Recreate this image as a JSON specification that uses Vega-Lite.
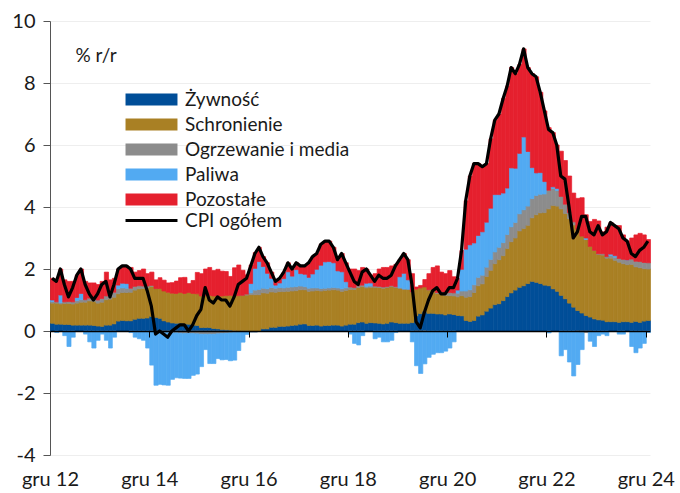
{
  "$schema": "https://vega.github.io/schema/vega-lite/v6.json",
  "width": 600,
  "height": 434,
  "autosize": {"type": "none"},
  "padding": {"left": 50, "top": 21, "right": 30, "bottom": 38},
  "background": "white",
  "config": {"font": "Lato", "view": {"stroke": null}},
  "resolve": {"scale": {"stroke": "independent"}, "legend": {"stroke": "independent"}},
  "data": {"values": [
    {"d":"2012-12-01","f":0.25,"s":0.65,"u":0.05,"p":0.05,"o":0.70,"c":1.7},
    {"d":"2013-01-01","f":0.22,"s":0.68,"u":0.04,"p":-0.05,"o":0.71,"c":1.6},
    {"d":"2013-02-01","f":0.22,"s":0.65,"u":0.04,"p":0.25,"o":0.84,"c":2.0},
    {"d":"2013-03-01","f":0.21,"s":0.68,"u":0.05,"p":-0.15,"o":0.71,"c":1.5},
    {"d":"2013-04-01","f":0.21,"s":0.68,"u":0.06,"p":-0.5,"o":0.65,"c":1.1},
    {"d":"2013-05-01","f":0.19,"s":0.68,"u":0.07,"p":-0.2,"o":0.66,"c":1.4},
    {"d":"2013-06-01","f":0.19,"s":0.71,"u":0.08,"p":0.1,"o":0.72,"c":1.8},
    {"d":"2013-07-01","f":0.19,"s":0.74,"u":0.08,"p":0.2,"o":0.79,"c":2.0},
    {"d":"2013-08-01","f":0.19,"s":0.74,"u":0.08,"p":-0.1,"o":0.59,"c":1.5},
    {"d":"2013-09-01","f":0.19,"s":0.78,"u":0.09,"p":-0.35,"o":0.49,"c":1.2},
    {"d":"2013-10-01","f":0.18,"s":0.78,"u":0.10,"p":-0.55,"o":0.49,"c":1.0},
    {"d":"2013-11-01","f":0.16,"s":0.74,"u":0.10,"p":-0.3,"o":0.50,"c":1.2},
    {"d":"2013-12-01","f":0.15,"s":0.78,"u":0.12,"p":-0.1,"o":0.55,"c":1.5},
    {"d":"2014-01-01","f":0.19,"s":0.82,"u":0.12,"p":-0.3,"o":0.77,"c":1.6},
    {"d":"2014-02-01","f":0.19,"s":0.84,"u":0.15,"p":-0.55,"o":0.47,"c":1.1},
    {"d":"2014-03-01","f":0.23,"s":0.86,"u":0.16,"p":-0.2,"o":0.45,"c":1.5},
    {"d":"2014-04-01","f":0.32,"s":0.88,"u":0.16,"p":0.12,"o":0.52,"c":2.0},
    {"d":"2014-05-01","f":0.34,"s":0.90,"u":0.15,"p":0.15,"o":0.56,"c":2.1},
    {"d":"2014-06-01","f":0.33,"s":0.91,"u":0.14,"p":0.15,"o":0.57,"c":2.1},
    {"d":"2014-07-01","f":0.33,"s":0.92,"u":0.13,"p":-0.05,"o":0.67,"c":2.0},
    {"d":"2014-08-01","f":0.38,"s":0.94,"u":0.12,"p":-0.2,"o":0.46,"c":1.7},
    {"d":"2014-09-01","f":0.41,"s":0.95,"u":0.10,"p":-0.25,"o":0.49,"c":1.7},
    {"d":"2014-10-01","f":0.41,"s":0.96,"u":0.08,"p":-0.3,"o":0.55,"c":1.7},
    {"d":"2014-11-01","f":0.42,"s":0.97,"u":0.06,"p":-0.55,"o":0.40,"c":1.3},
    {"d":"2014-12-01","f":0.47,"s":0.97,"u":0.03,"p":-1.1,"o":0.43,"c":0.8},
    {"d":"2015-01-01","f":0.44,"s":0.93,"u":0.0,"p":-1.75,"o":0.28,"c":-0.1},
    {"d":"2015-02-01","f":0.41,"s":0.96,"u":-0.02,"p":-1.7,"o":0.35,"c":0.0},
    {"d":"2015-03-01","f":0.33,"s":0.96,"u":-0.04,"p":-1.7,"o":0.35,"c":-0.1},
    {"d":"2015-04-01","f":0.29,"s":0.96,"u":-0.05,"p":-1.7,"o":0.30,"c":-0.2},
    {"d":"2015-05-01","f":0.26,"s":0.96,"u":-0.06,"p":-1.5,"o":0.34,"c":0.0},
    {"d":"2015-06-01","f":0.25,"s":0.96,"u":-0.06,"p":-1.45,"o":0.40,"c":0.1},
    {"d":"2015-07-01","f":0.25,"s":0.99,"u":-0.07,"p":-1.45,"o":0.48,"c":0.2},
    {"d":"2015-08-01","f":0.22,"s":0.99,"u":-0.08,"p":-1.45,"o":0.52,"c":0.2},
    {"d":"2015-09-01","f":0.22,"s":1.02,"u":-0.08,"p":-1.45,"o":0.29,"c":0.0},
    {"d":"2015-10-01","f":0.19,"s":1.02,"u":-0.08,"p":-1.35,"o":0.42,"c":0.2},
    {"d":"2015-11-01","f":0.18,"s":1.02,"u":-0.09,"p":-1.3,"o":0.69,"c":0.5},
    {"d":"2015-12-01","f":0.11,"s":1.02,"u":-0.10,"p":-1.05,"o":0.72,"c":0.7},
    {"d":"2016-01-01","f":0.11,"s":1.03,"u":-0.10,"p":-0.5,"o":0.86,"c":1.4},
    {"d":"2016-02-01","f":0.11,"s":1.04,"u":-0.10,"p":-0.95,"o":0.90,"c":1.0},
    {"d":"2016-03-01","f":0.08,"s":1.05,"u":-0.10,"p":-0.95,"o":0.82,"c":0.9},
    {"d":"2016-04-01","f":0.07,"s":1.06,"u":-0.09,"p":-0.8,"o":0.86,"c":1.1},
    {"d":"2016-05-01","f":0.05,"s":1.08,"u":-0.08,"p":-0.85,"o":0.80,"c":1.0},
    {"d":"2016-06-01","f":0.04,"s":1.10,"u":-0.07,"p":-0.85,"o":0.78,"c":1.0},
    {"d":"2016-07-01","f":0.03,"s":1.12,"u":-0.06,"p":-0.9,"o":0.61,"c":0.8},
    {"d":"2016-08-01","f":0.0,"s":1.13,"u":-0.04,"p":-0.9,"o":0.91,"c":1.1},
    {"d":"2016-09-01","f":-0.01,"s":1.14,"u":-0.02,"p":-0.6,"o":0.99,"c":1.5},
    {"d":"2016-10-01","f":-0.01,"s":1.15,"u":0.0,"p":-0.35,"o":0.81,"c":1.6},
    {"d":"2016-11-01","f":-0.01,"s":1.16,"u":0.03,"p":-0.1,"o":0.62,"c":1.7},
    {"d":"2016-12-01","f":-0.03,"s":1.17,"u":0.06,"p":0.3,"o":0.60,"c":2.1},
    {"d":"2017-01-01","f":-0.03,"s":1.17,"u":0.15,"p":0.7,"o":0.51,"c":2.5},
    {"d":"2017-02-01","f":0.0,"s":1.17,"u":0.17,"p":0.9,"o":0.46,"c":2.7},
    {"d":"2017-03-01","f":0.07,"s":1.16,"u":0.15,"p":0.7,"o":0.32,"c":2.4},
    {"d":"2017-04-01","f":0.07,"s":1.15,"u":0.14,"p":0.5,"o":0.34,"c":2.2},
    {"d":"2017-05-01","f":0.12,"s":1.14,"u":0.14,"p":0.3,"o":0.20,"c":1.9},
    {"d":"2017-06-01","f":0.12,"s":1.13,"u":0.13,"p":0.1,"o":0.12,"c":1.6},
    {"d":"2017-07-01","f":0.15,"s":1.12,"u":0.13,"p":0.15,"o":0.15,"c":1.7},
    {"d":"2017-08-01","f":0.15,"s":1.12,"u":0.12,"p":0.3,"o":0.21,"c":1.9},
    {"d":"2017-09-01","f":0.16,"s":1.12,"u":0.13,"p":0.5,"o":0.29,"c":2.2},
    {"d":"2017-10-01","f":0.18,"s":1.11,"u":0.13,"p":0.35,"o":0.23,"c":2.0},
    {"d":"2017-11-01","f":0.19,"s":1.11,"u":0.13,"p":0.55,"o":0.22,"c":2.2},
    {"d":"2017-12-01","f":0.22,"s":1.11,"u":0.12,"p":0.4,"o":0.25,"c":2.1},
    {"d":"2018-01-01","f":0.23,"s":1.10,"u":0.10,"p":0.4,"o":0.27,"c":2.1},
    {"d":"2018-02-01","f":0.18,"s":1.10,"u":0.10,"p":0.35,"o":0.47,"c":2.2},
    {"d":"2018-03-01","f":0.18,"s":1.11,"u":0.10,"p":0.45,"o":0.56,"c":2.4},
    {"d":"2018-04-01","f":0.19,"s":1.12,"u":0.08,"p":0.6,"o":0.51,"c":2.5},
    {"d":"2018-05-01","f":0.16,"s":1.13,"u":0.08,"p":0.75,"o":0.68,"c":2.8},
    {"d":"2018-06-01","f":0.18,"s":1.13,"u":0.07,"p":0.85,"o":0.67,"c":2.9},
    {"d":"2018-07-01","f":0.18,"s":1.14,"u":0.07,"p":0.85,"o":0.66,"c":2.9},
    {"d":"2018-08-01","f":0.19,"s":1.14,"u":0.07,"p":0.8,"o":0.50,"c":2.7},
    {"d":"2018-09-01","f":0.19,"s":1.13,"u":0.07,"p":0.55,"o":0.36,"c":2.3},
    {"d":"2018-10-01","f":0.16,"s":1.12,"u":0.08,"p":0.55,"o":0.59,"c":2.5},
    {"d":"2018-11-01","f":0.19,"s":1.12,"u":0.08,"p":0.2,"o":0.61,"c":2.2},
    {"d":"2018-12-01","f":0.22,"s":1.12,"u":0.08,"p":-0.1,"o":0.58,"c":1.9},
    {"d":"2019-01-01","f":0.22,"s":1.12,"u":0.06,"p":-0.4,"o":0.60,"c":1.6},
    {"d":"2019-02-01","f":0.27,"s":1.13,"u":0.06,"p":-0.45,"o":0.49,"c":1.5},
    {"d":"2019-03-01","f":0.29,"s":1.14,"u":0.05,"p":-0.15,"o":0.57,"c":1.9},
    {"d":"2019-04-01","f":0.25,"s":1.14,"u":0.05,"p":0.1,"o":0.46,"c":2.0},
    {"d":"2019-05-01","f":0.27,"s":1.14,"u":0.04,"p":0.1,"o":0.25,"c":1.8},
    {"d":"2019-06-01","f":0.26,"s":1.15,"u":0.04,"p":-0.25,"o":0.40,"c":1.6},
    {"d":"2019-07-01","f":0.25,"s":1.15,"u":0.04,"p":-0.2,"o":0.56,"c":1.8},
    {"d":"2019-08-01","f":0.23,"s":1.15,"u":0.04,"p":-0.35,"o":0.63,"c":1.7},
    {"d":"2019-09-01","f":0.25,"s":1.15,"u":0.03,"p":-0.35,"o":0.62,"c":1.7},
    {"d":"2019-10-01","f":0.29,"s":1.14,"u":0.03,"p":-0.3,"o":0.64,"c":1.8},
    {"d":"2019-11-01","f":0.27,"s":1.13,"u":0.03,"p":-0.05,"o":0.72,"c":2.1},
    {"d":"2019-12-01","f":0.25,"s":1.12,"u":0.03,"p":0.35,"o":0.55,"c":2.3},
    {"d":"2020-01-01","f":0.25,"s":1.09,"u":0.02,"p":0.5,"o":0.64,"c":2.5},
    {"d":"2020-02-01","f":0.25,"s":1.09,"u":0.01,"p":0.3,"o":0.65,"c":2.3},
    {"d":"2020-03-01","f":0.27,"s":0.99,"u":0.0,"p":-0.35,"o":0.59,"c":1.5},
    {"d":"2020-04-01","f":0.49,"s":0.86,"u":-0.02,"p":-1.1,"o":0.07,"c":0.3},
    {"d":"2020-05-01","f":0.56,"s":0.83,"u":-0.02,"p":-1.35,"o":0.08,"c":0.1},
    {"d":"2020-06-01","f":0.63,"s":0.79,"u":-0.01,"p":-1.05,"o":0.24,"c":0.6},
    {"d":"2020-07-01","f":0.57,"s":0.76,"u":0.0,"p":-0.85,"o":0.52,"c":1.0},
    {"d":"2020-08-01","f":0.57,"s":0.76,"u":0.01,"p":-0.75,"o":0.71,"c":1.3},
    {"d":"2020-09-01","f":0.55,"s":0.66,"u":0.03,"p":-0.7,"o":0.86,"c":1.4},
    {"d":"2020-10-01","f":0.55,"s":0.66,"u":0.05,"p":-0.7,"o":0.64,"c":1.2},
    {"d":"2020-11-01","f":0.52,"s":0.63,"u":0.07,"p":-0.65,"o":0.63,"c":1.2},
    {"d":"2020-12-01","f":0.55,"s":0.59,"u":0.10,"p":-0.55,"o":0.71,"c":1.4},
    {"d":"2021-01-01","f":0.53,"s":0.60,"u":0.10,"p":-0.35,"o":0.52,"c":1.4},
    {"d":"2021-02-01","f":0.50,"s":0.60,"u":0.12,"p":0.1,"o":0.38,"c":1.7},
    {"d":"2021-03-01","f":0.49,"s":0.65,"u":0.15,"p":0.7,"o":0.61,"c":2.6},
    {"d":"2021-04-01","f":0.34,"s":0.75,"u":0.20,"p":1.35,"o":1.56,"c":4.2},
    {"d":"2021-05-01","f":0.31,"s":0.80,"u":0.22,"p":1.45,"o":2.22,"c":5.0},
    {"d":"2021-06-01","f":0.34,"s":0.90,"u":0.25,"p":1.35,"o":2.56,"c":5.4},
    {"d":"2021-07-01","f":0.48,"s":0.98,"u":0.27,"p":1.35,"o":2.32,"c":5.4},
    {"d":"2021-08-01","f":0.52,"s":1.00,"u":0.28,"p":1.4,"o":2.10,"c":5.3},
    {"d":"2021-09-01","f":0.64,"s":1.12,"u":0.30,"p":1.45,"o":1.89,"c":5.4},
    {"d":"2021-10-01","f":0.74,"s":1.22,"u":0.35,"p":1.65,"o":2.24,"c":6.2},
    {"d":"2021-11-01","f":0.85,"s":1.32,"u":0.38,"p":1.85,"o":2.40,"c":6.8},
    {"d":"2021-12-01","f":0.88,"s":1.42,"u":0.40,"p":1.7,"o":2.60,"c":7.0},
    {"d":"2022-01-01","f":0.98,"s":1.45,"u":0.42,"p":1.6,"o":3.05,"c":7.5},
    {"d":"2022-02-01","f":1.11,"s":1.55,"u":0.45,"p":1.5,"o":3.29,"c":7.9},
    {"d":"2022-03-01","f":1.23,"s":1.65,"u":0.48,"p":1.9,"o":3.24,"c":8.5},
    {"d":"2022-04-01","f":1.32,"s":1.68,"u":0.50,"p":1.75,"o":3.05,"c":8.3},
    {"d":"2022-05-01","f":1.41,"s":1.82,"u":0.55,"p":1.95,"o":2.87,"c":8.6},
    {"d":"2022-06-01","f":1.46,"s":1.85,"u":0.60,"p":2.35,"o":2.84,"c":9.1},
    {"d":"2022-07-01","f":1.53,"s":1.88,"u":0.62,"p":1.76,"o":2.71,"c":8.5},
    {"d":"2022-08-01","f":1.60,"s":2.05,"u":0.62,"p":1.0,"o":3.03,"c":8.3},
    {"d":"2022-09-01","f":1.57,"s":2.18,"u":0.62,"p":0.73,"o":3.10,"c":8.2},
    {"d":"2022-10-01","f":1.53,"s":2.28,"u":0.60,"p":0.7,"o":2.59,"c":7.7},
    {"d":"2022-11-01","f":1.48,"s":2.34,"u":0.60,"p":0.4,"o":2.28,"c":7.1},
    {"d":"2022-12-01","f":1.46,"s":2.48,"u":0.60,"p":-0.06,"o":2.02,"c":6.5},
    {"d":"2023-01-01","f":1.36,"s":2.69,"u":0.55,"p":0.05,"o":1.75,"c":6.4},
    {"d":"2023-02-01","f":1.28,"s":2.75,"u":0.50,"p":0.07,"o":1.40,"c":6.0},
    {"d":"2023-03-01","f":1.15,"s":2.79,"u":0.40,"p":-0.8,"o":1.46,"c":5.0},
    {"d":"2023-04-01","f":1.04,"s":2.75,"u":0.30,"p":-0.6,"o":1.41,"c":4.9},
    {"d":"2023-05-01","f":0.90,"s":2.72,"u":0.20,"p":-1.0,"o":1.18,"c":4.0},
    {"d":"2023-06-01","f":0.77,"s":2.65,"u":0.10,"p":-1.45,"o":0.93,"c":3.0},
    {"d":"2023-07-01","f":0.66,"s":2.62,"u":-0.03,"p":-1.05,"o":1.00,"c":3.2},
    {"d":"2023-08-01","f":0.58,"s":2.48,"u":-0.05,"p":-0.55,"o":1.24,"c":3.7},
    {"d":"2023-09-01","f":0.50,"s":2.45,"u":-0.05,"p":0.05,"o":0.75,"c":3.7},
    {"d":"2023-10-01","f":0.45,"s":2.28,"u":-0.03,"p":-0.3,"o":0.80,"c":3.2},
    {"d":"2023-11-01","f":0.39,"s":2.21,"u":0.0,"p":-0.5,"o":1.00,"c":3.1},
    {"d":"2023-12-01","f":0.36,"s":2.11,"u":0.02,"p":-0.15,"o":1.06,"c":3.4},
    {"d":"2024-01-01","f":0.35,"s":2.10,"u":0.04,"p":-0.1,"o":0.71,"c":3.1},
    {"d":"2024-02-01","f":0.30,"s":2.05,"u":0.05,"p":-0.15,"o":0.95,"c":3.2},
    {"d":"2024-03-01","f":0.30,"s":2.05,"u":0.08,"p":0.05,"o":1.02,"c":3.5},
    {"d":"2024-04-01","f":0.30,"s":1.98,"u":0.10,"p":0.05,"o":0.97,"c":3.4},
    {"d":"2024-05-01","f":0.28,"s":1.94,"u":0.12,"p":-0.1,"o":1.06,"c":3.3},
    {"d":"2024-06-01","f":0.30,"s":1.87,"u":0.14,"p":-0.1,"o":0.79,"c":3.0},
    {"d":"2024-07-01","f":0.30,"s":1.84,"u":0.15,"p":0.0,"o":0.61,"c":2.9},
    {"d":"2024-08-01","f":0.28,"s":1.87,"u":0.17,"p":-0.5,"o":0.68,"c":2.5},
    {"d":"2024-09-01","f":0.31,"s":1.76,"u":0.18,"p":-0.7,"o":0.85,"c":2.4},
    {"d":"2024-10-01","f":0.28,"s":1.76,"u":0.20,"p":-0.55,"o":0.91,"c":2.6},
    {"d":"2024-11-01","f":0.32,"s":1.69,"u":0.20,"p":-0.4,"o":0.89,"c":2.7},
    {"d":"2024-12-01","f":0.34,"s":1.66,"u":0.20,"p":-0.05,"o":0.75,"c":2.9}
  ]},
  "layer": [
    {
      "transform": [
        {"fold": ["f", "s", "u", "p", "o"], "as": ["key", "v"]},
        {"lookup": "key", "from": {"data": {"values": [
          {"key": "f", "label": "Żywność", "ord": 1},
          {"key": "s", "label": "Schronienie", "ord": 2},
          {"key": "u", "label": "Ogrzewanie i media", "ord": 3},
          {"key": "p", "label": "Paliwa", "ord": 4},
          {"key": "o", "label": "Pozostałe", "ord": 5}
        ]}, "key": "key", "fields": ["label", "ord"]}}
      ],
      "mark": {"type": "bar", "binSpacing": 0, "strokeWidth": 0.7},
      "encoding": {
        "x": {
          "field": "d", "timeUnit": "utcyearmonth", "type": "temporal", "title": null,
          "scale": {"type": "utc", "domain": [{"year": 2012, "month": 12, "date": 1, "utc": true}, {"year": 2025, "month": 1, "date": 1, "utc": true}]},
          "axis": {
            "values": [
              {"year": 2012, "month": 12, "date": 1, "utc": true},
              {"year": 2014, "month": 12, "date": 1, "utc": true},
              {"year": 2016, "month": 12, "date": 1, "utc": true},
              {"year": 2018, "month": 12, "date": 1, "utc": true},
              {"year": 2020, "month": 12, "date": 1, "utc": true},
              {"year": 2022, "month": 12, "date": 1, "utc": true},
              {"year": 2024, "month": 12, "date": 1, "utc": true}
            ],
            "labelExpr": "'gru ' + utcFormat(datum.value, '%y')",
            "offset": -124,
            "domainColor": "#000000",
            "domainWidth": 1.5,
            "tickColor": "#000000",
            "tickWidth": 1,
            "tickSize": 6,
            "labelPadding": 132,
            "labelFontSize": 20,
            "labelColor": "#1a1a1a",
            "labelFlush": false,
            "labelOverlap": false,
            "grid": false,
            "zindex": 1
          }
        },
        "y": {
          "field": "v", "type": "quantitative", "stack": "zero", "title": "% r/r",
          "scale": {"domain": [-4, 10], "nice": false},
          "axis": {
            "values": [-4, -2, 0, 2, 4, 6, 8, 10],
            "labelExpr": "'' + datum.value",
            "domainColor": "#555555",
            "tickColor": "#555555",
            "tickSize": 7,
            "labelPadding": 8,
            "labelFontSize": 20,
            "labelColor": "#1a1a1a",
            "gridColor": "#eeeeee",
            "titleAngle": 0,
            "titleX": 25,
            "titleY": 34,
            "titleAlign": "left",
            "titleBaseline": "middle",
            "titleFontSize": 19,
            "titleFontWeight": "normal",
            "titleColor": "#1a1a1a"
          }
        },
        "fill": {
          "field": "label", "type": "nominal",
          "scale": {
            "domain": ["Żywność", "Schronienie", "Ogrzewanie i media", "Paliwa", "Pozostałe"],
            "range": ["#004E98", "#A98024", "#8C8C8C", "#52AAF2", "#E5202E"]
          },
          "legend": {
            "orient": "none", "legendX": 92, "legendY": 69, "title": null, "padding": 0,
            "symbolType": "M-4.33,-1H4.33V1H-4.33Z", "symbolSize": 144, "symbolStrokeWidth": 0,
            "labelOffset": 24, "labelFontSize": 19, "labelColor": "#1a1a1a", "rowPadding": 5,
            "labelLimit": 300, "symbolOpacity": 1
          }
        },
        "stroke": {
          "field": "label", "type": "nominal",
          "scale": {
            "domain": ["Żywność", "Schronienie", "Ogrzewanie i media", "Paliwa", "Pozostałe"],
            "range": ["#004E98", "#A98024", "#8C8C8C", "#52AAF2", "#E5202E"]
          },
          "legend": null
        },
        "order": {"field": "ord", "type": "quantitative"}
      }
    },
    {
      "mark": {"type": "line", "strokeWidth": 3.2, "strokeJoin": "round"},
      "encoding": {
        "x": {"field": "d", "timeUnit": "utcyearmonth", "type": "temporal", "bandPosition": 0.5, "title": null},
        "y": {"field": "c", "type": "quantitative", "title": "% r/r"},
        "stroke": {
          "datum": "CPI ogółem", "type": "nominal",
          "scale": {"range": ["#000000"]},
          "legend": {
            "orient": "none", "legendX": 92, "legendY": 190, "title": null, "padding": 0,
            "symbolType": "M-4.33,0H4.33", "symbolSize": 144, "symbolStrokeWidth": 3,
            "labelOffset": 24, "labelFontSize": 19, "labelColor": "#1a1a1a", "labelLimit": 300
          }
        }
      }
    }
  ]
}
